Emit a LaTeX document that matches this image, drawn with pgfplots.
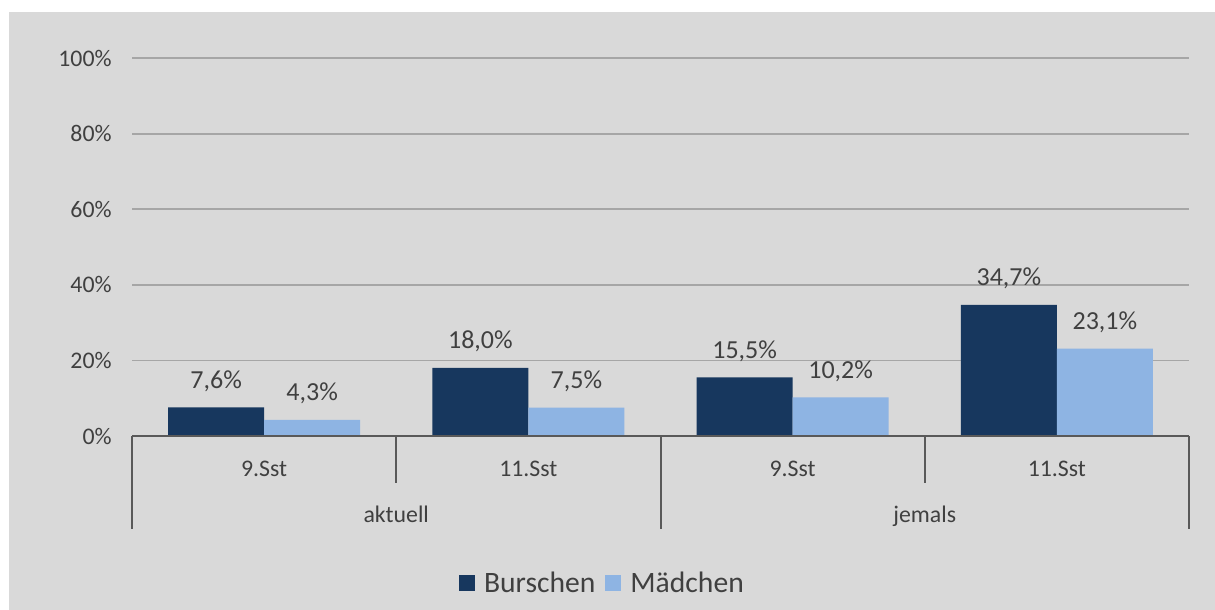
\documentclass[border=0pt]{standalone}
\usepackage{pgfplots}
\pgfplotsset{compat=1.18}
\usepackage{fontspec}
\setmainfont{Carlito}
\definecolor{bgray}{HTML}{D9D9D9}
\definecolor{dark}{HTML}{17375E}
\definecolor{light}{HTML}{8EB4E3}
\definecolor{txt}{HTML}{404040}
\definecolor{gridc}{HTML}{A6A6A6}
\definecolor{axc}{HTML}{595959}
\begin{document}
\begin{tikzpicture}
\useasboundingbox (0,0) rectangle (607.5pt,-305pt);
\fill[white] (0,0) rectangle (607.5pt,-305pt);
\fill[bgray] (4.5pt,-6pt) rectangle (607.5pt,-305pt);
\begin{axis}[
 at={(66pt,-218pt)}, anchor=south west,
 scale only axis, width=528.5pt, height=189pt,
 clip=false,
 xmin=-0.5, xmax=3.5, ymin=0, ymax=100,
 ybar=0pt, bar width=48pt,
 xtick={0,1,2,3}, xticklabels={9.Sst,11.Sst,9.Sst,11.Sst},
 ytick={0,20,40,60,80,100},
 yticklabel={\pgfmathprintnumber{\tick}\%},
 /pgf/number format/assume math mode=true,
 ymajorgrids, grid style={draw=gridc, line width=0.9pt},
 axis line style={draw=none},
 major tick length=0pt, tick style={draw=none},
 ticklabel style={font=\fontsize{11.9}{14}\selectfont, text=txt},
 xticklabel style={anchor=base, yshift=-20pt},
 yticklabel style={anchor=east, inner sep=0pt, xshift=-10pt},
 nodes near coords={\pgfmathprintnumber[fixed,fixed zerofill,precision=1,use comma]{\pgfplotspointmeta}\%},
 every node near coord/.append style={anchor=base, yshift=9.5pt, font=\fontsize{13}{15}\selectfont, text=txt},
 legend style={at={(0.446,-0.39)}, anchor=center, legend columns=2, draw=none, fill=none,
   font=\fontsize{14.8}{17}\selectfont, text=txt,
   /tikz/every odd column/.append style={column sep=2.5pt},
   /tikz/every even column/.append style={column sep=3pt}},
 legend image code/.code={\fill[#1] (0pt,-4pt) rectangle (8pt,4pt);},
]
\addplot[fill=dark, draw=none] coordinates {(0,7.6) (1,18.0) (2,15.5) (3,34.7)};
\addplot[fill=light, draw=none] coordinates {(0,4.3) (1,7.5) (2,10.2) (3,23.1)};
\legend{Burschen, Mädchen}
\draw[axc, line width=1pt] (axis cs:-0.5,0) -- (axis cs:3.5,0);
\draw[axc, line width=1pt] (axis cs:0.5,0) -- ++(0pt,-23.5pt);
\draw[axc, line width=1pt] (axis cs:2.5,0) -- ++(0pt,-23.5pt);
\draw[axc, line width=1pt] (axis cs:-0.5,0) -- ++(0pt,-46.5pt);
\draw[axc, line width=1pt] (axis cs:1.5,0) -- ++(0pt,-46.5pt);
\draw[axc, line width=1pt] (axis cs:3.5,0) -- ++(0pt,-46.5pt);
\node[anchor=base, font=\fontsize{11.9}{14}\selectfont, text=txt] at (axis cs:0.5,0) [yshift=-43pt] {aktuell};
\node[anchor=base, font=\fontsize{11.9}{14}\selectfont, text=txt] at (axis cs:2.5,0) [yshift=-43pt] {jemals};
\end{axis}
\end{tikzpicture}
\end{document}
